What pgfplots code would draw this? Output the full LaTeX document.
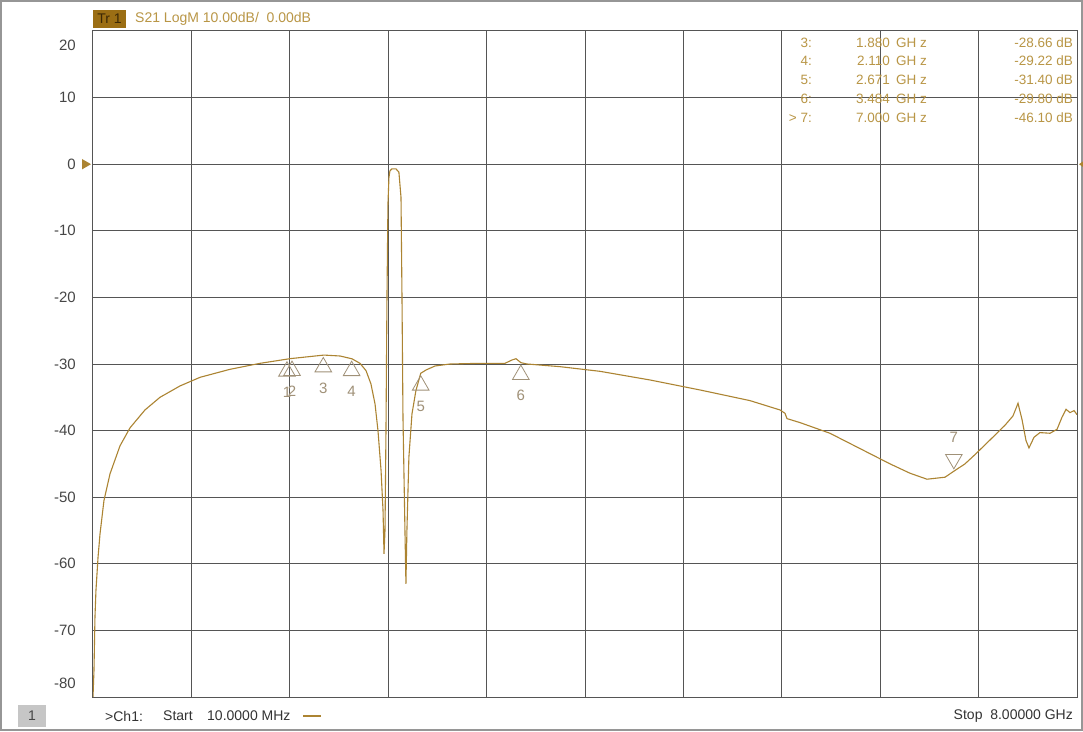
\documentclass[border=0pt]{standalone}
\usepackage{fontspec}
\setmainfont{Liberation Sans}
\usepackage{pgfplots}
\pgfplotsset{compat=1.18}
\definecolor{trace}{RGB}{172,132,50}
\definecolor{goldtext}{RGB}{185,150,70}
\definecolor{trbox}{RGB}{155,110,20}
\definecolor{trtext}{RGB}{60,40,5}
\definecolor{markc}{RGB}{160,145,120}
\definecolor{gridc}{RGB}{85,85,85}
\definecolor{tickc}{RGB}{70,70,70}
\definecolor{framec}{RGB}{150,150,150}
\begin{document}
\begin{tikzpicture}[x=1pt,y=1pt]
\useasboundingbox (-93,-34) rectangle (990,697);
\fill[white] (-93,-34) rectangle (990,697);
\draw[framec, line width=1.5pt] (-92.2,-33.2) rectangle (989.2,696.2);
\begin{axis}[at={(0,0)}, anchor=south west, scale only axis,
  width=984pt, height=666pt,
  xmin=0.01, xmax=8, ymin=-80, ymax=20,
  xtick={0.809,1.608,2.407,3.206,4.005,4.804,5.603,6.402,7.201}, xticklabels={},
  ytick={-70,-60,-50,-40,-30,-20,-10,0,10},
  yticklabels={-70,-60,-50,-40,-30,-20,-10,0,10},
  grid=major, major grid style={gridc, line width=0.9pt},
  axis line style={gridc, line width=1pt},
  major tick length=0pt,
  yticklabel style={font=\fontsize{15}{15}\selectfont, text=tickc, anchor=east, inner sep=0pt, xshift=-17pt},
  clip mode=individual,
]
\addplot[trace, line width=1.1pt] coordinates {
(0.010,-80) (0.018,-76) (0.026,-68) (0.034,-64) (0.051,-59) (0.067,-55.5) (0.099,-50.5)
(0.148,-46.5) (0.229,-42.3) (0.310,-39.6) (0.432,-36.9) (0.554,-35.0) (0.716,-33.3)
(0.879,-32.0) (1.122,-30.8) (1.366,-29.9) (1.610,-29.2) (1.813,-28.8) (1.886,-28.66)
(2.016,-28.8) (2.113,-29.22) (2.178,-29.9) (2.227,-31.0) (2.267,-33.0) (2.300,-36.0)
(2.324,-40) (2.349,-46) (2.365,-52) (2.373,-58.5) (2.381,-55) (2.389,-40) (2.397,-20)
(2.405,-6) (2.413,-2.0) (2.421,-1.0) (2.437,-0.7) (2.470,-0.7) (2.494,-1.2) (2.511,-5)
(2.519,-20) (2.527,-38) (2.543,-55) (2.551,-63) (2.559,-55) (2.575,-44) (2.600,-37.5)
(2.632,-34) (2.671,-31.4) (2.714,-30.9) (2.787,-30.3) (2.909,-30.0) (3.152,-29.9)
(3.355,-29.9) (3.412,-29.4) (3.445,-29.2) (3.484,-29.8) (3.534,-30.0) (3.802,-30.4)
(4.127,-31.1) (4.533,-32.4) (4.939,-33.9) (5.345,-35.5) (5.588,-36.9) (5.629,-37.4)
(5.645,-38.2) (5.751,-38.8) (5.994,-40.4) (6.238,-42.7) (6.482,-45.0) (6.644,-46.4)
(6.782,-47.3) (6.928,-47.0) (7.000,-46.1) (7.090,-45.0) (7.172,-43.6) (7.294,-41.4)
(7.415,-39.2) (7.480,-37.8) (7.521,-35.9) (7.553,-38.3) (7.586,-41.5) (7.610,-42.6)
(7.651,-41.0) (7.699,-40.3) (7.781,-40.4) (7.838,-39.8) (7.878,-38.0) (7.911,-36.8)
(7.943,-37.3) (7.976,-37.0) (8.000,-37.6)
};
\addplot[only marks, mark=triangle, mark size=9.6pt, draw=markc,
  mark options={yshift=-12pt, line width=0.8pt},
  nodes near coords, point meta=explicit symbolic,
  every node near coord/.style={anchor=center, yshift=-21pt, font=\fontsize{15}{15}\selectfont, text=markc}]
  coordinates {(1.585,-29.3)[1] (1.626,-29.2)[2] (1.880,-28.66)[3] (2.110,-29.22)[4] (2.671,-31.4)[5] (3.484,-29.8)[6]};
\addplot[only marks, mark=triangle, mark size=9.6pt, draw=markc,
  mark options={yshift=12pt, rotate=180, line width=0.8pt},
  nodes near coords, point meta=explicit symbolic,
  every node near coord/.style={anchor=center, yshift=22pt, font=\fontsize{15}{15}\selectfont, text=markc}]
  coordinates {(7.000,-46.1)[7]};
\end{axis}
% y labels at the ends
\node[anchor=east, inner sep=0pt, font=\fontsize{15}{15}\selectfont, text=tickc] at (-17,652) {20};
\node[anchor=east, inner sep=0pt, font=\fontsize{15}{15}\selectfont, text=tickc] at (-17,14) {-80};
% reference level arrows
\fill[trace] (-2,532.8) -- (-11,538) -- (-11,527.6) -- cycle;
\fill[trace] (986,532.8) -- (992,537) -- (992,528.6) -- cycle;
% header
\fill[trbox] (0,669) rectangle (33,687);
\node[anchor=center, inner sep=0pt, font=\fontsize{14}{14}\selectfont, text=trtext] at (16.5,678) {Tr 1};
\node[anchor=west, inner sep=0pt, font=\fontsize{14}{14}\selectfont, text=goldtext] at (42,678) {S21 LogM 10.00dB/\ \ 0.00dB};
% marker table
\begin{scope}[every node/.style={inner sep=0pt, font=\fontsize{13.5}{13.5}\selectfont, text=goldtext}]
\foreach \y/\n/\f/\d in {654/3:/1.880/-28.66 dB, 636/4:/2.110/-29.22 dB, 617/5:/2.671/-31.40 dB, 598/6:/3.484/-29.80 dB, 579/{> 7:}/7.000/-46.10 dB}{
  \node[anchor=east] at (719,\y) {\n};
  \node[anchor=east] at (797,\y) {\f};
  \node[anchor=west] at (803,\y) {GH z};
  \node[anchor=east] at (980,\y) {\d};
}
\end{scope}
% bottom status line
\fill[gray!45] (-75,-30) rectangle (-47,-8);
\node[inner sep=0pt, font=\fontsize{14}{14}\selectfont, text=tickc] at (-61,-19) {1};
\begin{scope}[every node/.style={inner sep=0pt, font=\fontsize{14}{14}\selectfont, text=black!80}]
\node[anchor=west] at (12,-19) {>Ch1:};
\node[anchor=west] at (70,-19) {Start};
\node[anchor=west] at (114,-19) {10.0000 MHz};
\node[anchor=east] at (980,-19) {Stop\ \ 8.00000 GHz};
\end{scope}
\draw[trace, line width=1.2pt] (210,-19) -- (228,-19);
\end{tikzpicture}
\end{document}
